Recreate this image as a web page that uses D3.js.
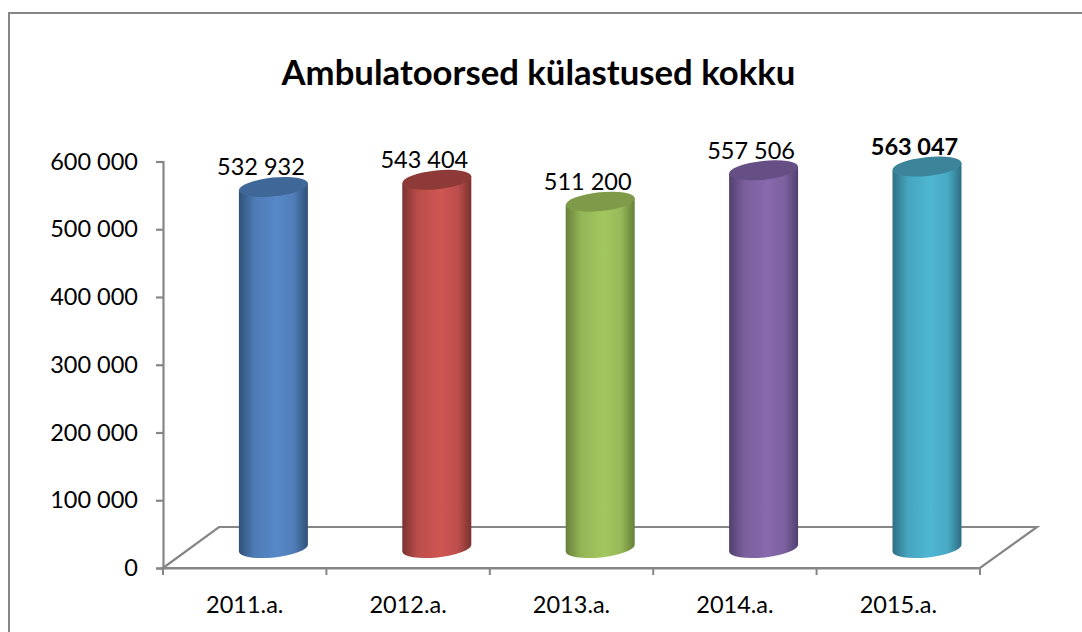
<!DOCTYPE html>
<html><head><meta charset="utf-8">
<script src="https://cdn.jsdelivr.net/npm/d3@7"></script>
<style>html,body{margin:0;padding:0;background:#fff}svg{display:block}text{font-family:Lato,Carlito,Calibri,sans-serif;fill:#000}</style>
</head><body><svg id="c" width="1082" height="632"></svg>
<script>
const titleText = "Ambulatoorsed külastused kokku";
const categories = ["2011.a.","2012.a.","2013.a.","2014.a.","2015.a."];
const values = [532932,543404,511200,557506,563047];
const valueLabels = ["532 932","543 404","511 200","557 506","563 047"];
const yTicks = [0,100000,200000,300000,400000,500000,600000];
const edgeColors = ["#2f5277","#7a3230","#66803a","#51406e","#2e6f84"];
const midColors  = ["#5788c8","#cf5653","#a3c75f","#8869ad","#4eb7d3"];
const capColors  = ["#3f6899","#8e3a38","#7f9b49","#664f84","#3b8499"];
const gray = "#868686";

const svg = d3.select("#c");
const y = d3.scaleLinear().domain([0,600000]).range([568,161.5]);
const x = d3.scaleBand().domain(categories).range([163,980]).paddingInner(0).paddingOuter(0);
const depth = {dx:56, dy:-41};
const baseShift = {dx:28.7, dy:-20};
const barW = 69, ry = 9.4, tilt = -6;
const fmt = d => d3.format(",")(d).replace(/,/g," ");

svg.append("path").attr("d","M9 632V13H1082").attr("fill","none").attr("stroke",gray).attr("stroke-width",2);

svg.append("text").attr("x",538.5).attr("y",85).attr("text-anchor","middle")
  .attr("font-size",34.7).attr("font-weight",700).text(titleText);

// floor
const x0=x.range()[0], x1=x.range()[1], y0=y(0);
svg.append("path").attr("fill","none").attr("stroke",gray).attr("stroke-width",2.2)
  .attr("d",`M${x0} ${y0}L${x0+depth.dx} ${y0+depth.dy}H${x1+depth.dx+1}L${x1} ${y0}Z`);

// axes
const yAxis = d3.axisLeft(y).tickValues(yTicks).tickFormat(fmt).tickSize(7).tickPadding(18);
const gy = svg.append("g").attr("transform",`translate(${x0},0)`).call(yAxis);
const xAxis = d3.axisBottom(x).tickSize(0).tickPadding(28);
const gx = svg.append("g").attr("transform",`translate(0,${y0})`).call(xAxis);
svg.append("g").selectAll("line").data(d3.range(categories.length+1)).join("line")
  .attr("x1",i=>x0+i*x.step()).attr("x2",i=>x0+i*x.step())
  .attr("y1",y0).attr("y2",y0+7).attr("stroke",gray).attr("stroke-width",2);
[gy,gx].forEach(g=>{
  g.selectAll(".domain,.tick line").attr("stroke",gray).attr("stroke-width",2.2);
  g.selectAll("text").attr("font-size",23.5).attr("fill","#000").style("font-family","Lato,Carlito,sans-serif");
});

// gradients
const defs = svg.append("defs");
categories.forEach((c,i)=>{
  const g = defs.append("linearGradient").attr("id","g"+i).attr("x1",0).attr("x2",1).attr("y1",0).attr("y2",0);
  [[0,edgeColors[i]],[.22,d3.interpolateRgb(edgeColors[i],midColors[i])(.75)],[.55,midColors[i]],[.8,d3.interpolateRgb(edgeColors[i],midColors[i])(.8)],[1,edgeColors[i]]]
    .forEach(s=>g.append("stop").attr("offset",s[0]).attr("stop-color",s[1]));
});

// cylinders
const rad = tilt*Math.PI/180, rx = barW/2;
const sl = rx*Math.tan(-rad);
const bars = svg.append("g").selectAll("g").data(values).join("g");
bars.each(function(v,i){
  const mid = x(categories[i]) + x.bandwidth()/2 + baseShift.dx;
  const l = mid - rx, r = mid + rx;
  const yb = y(0)+baseShift.dy, yt = y(v)+baseShift.dy;
  const g = d3.select(this);
  g.append("path").attr("fill",`url(#g${i})`)
    .attr("d",`M${l} ${yt+sl}L${r} ${yt-sl}L${r} ${yb-sl}A${rx} ${ry} ${tilt} 0 1 ${l} ${yb+sl}Z`);
  g.append("ellipse").attr("cx",mid).attr("cy",yt).attr("rx",rx/Math.cos(rad)).attr("ry",ry)
    .attr("transform",`rotate(${tilt} ${mid} ${yt})`).attr("fill",capColors[i]);
  g.append("text").attr("x",mid-12.5).attr("y",yt-11.5).attr("text-anchor","middle")
    .attr("font-size",23.5).attr("font-weight",i===4?700:400).text(valueLabels[i]);
});
</script></body></html>
